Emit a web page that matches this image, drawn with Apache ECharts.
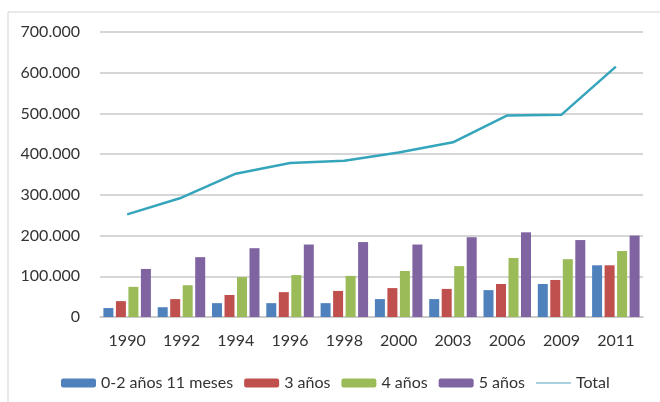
<!DOCTYPE html>
<html>
<head>
<meta charset="utf-8">
<script src="https://cdn.jsdelivr.net/npm/echarts@6/dist/echarts.min.js"></script>
<style>
  html, body { margin: 0; padding: 0; background: #fff; }
  #chart { width: 660px; height: 402px; }
</style>
</head>
<body>
<div id="chart"></div>
<script>
var years = ['1990', '1992', '1994', '1996', '1998', '2000', '2003', '2006', '2009', '2011'];
var age02 = [22000, 24000, 34000, 34000, 34000, 44000, 44000, 66000, 81000, 127000];
var age3 = [39000, 44000, 54000, 61000, 64000, 71000, 69000, 81000, 91000, 127000];
var age4 = [74000, 78000, 98000, 103000, 101000, 113000, 125000, 145000, 142000, 162000];
var age5 = [118000, 147000, 169000, 178000, 184000, 178000, 196000, 208000, 189000, 200000];
var total = [252000, 293000, 352000, 378000, 384000, 404000, 429000, 495000, 497000, 615000];

var chart = echarts.init(document.getElementById('chart'));
var font = 'Lato, "Open Sans", sans-serif';

function bar(name, data, color) {
    return {
        name: name,
        type: 'bar',
        data: data,
        barWidth: 10,
        barGap: '25%',
        itemStyle: { color: color },
        z: 2
    };
}

chart.setOption({
    backgroundColor: '#fff',
    animation: false,
    textStyle: { fontFamily: font },
    graphic: [{
        type: 'rect',
        shape: { x: 8, y: 12, width: 680, height: 420 },
        style: { fill: 'none', stroke: '#d4d4d4', lineWidth: 1 },
        silent: true
    }],
    grid: { left: 100, right: 17, top: 32, bottom: 85 },
    legend: {
        top: 370,
        left: 56,
        itemWidth: 35,
        itemHeight: 9,
        itemGap: 11,
        textStyle: { fontFamily: font, fontSize: 16, color: '#333' },
        data: [
            '0-2 años 11 meses', '3 años', '4 años', '5 años',
            { name: 'Total', icon: 'path://M0,0 L38,0 L38,2 L0,2 Z', itemStyle: { color: '#a9d3e2' } }
        ]
    },
    xAxis: {
        type: 'category',
        data: years,
        axisLine: { lineStyle: { color: '#c8c8c8', width: 1.5 } },
        axisTick: { show: false },
        axisLabel: { margin: 16, fontSize: 16, color: '#333', fontFamily: font }
    },
    yAxis: {
        type: 'value',
        min: 0,
        max: 700000,
        interval: 100000,
        axisLine: { show: false },
        axisTick: { show: false },
        splitLine: { lineStyle: { color: '#c8c8c8', width: 1.5 } },
        axisLabel: {
            margin: 20,
            fontSize: 16,
            color: '#333',
            fontFamily: font,
            formatter: function (v) {
                return String(v).replace(/\B(?=(\d{3})+(?!\d))/g, '.');
            }
        }
    },
    series: [
        bar('0-2 años 11 meses', age02, '#4f81bd'),
        bar('3 años', age3, '#c0504d'),
        bar('4 años', age4, '#9bbb59'),
        bar('5 años', age5, '#8064a2'),
        {
            name: 'Total',
            type: 'line',
            data: total,
            symbol: 'none',
            lineStyle: { color: '#35a5bc', width: 2.5 },
            itemStyle: { color: '#35a5bc' },
            z: 3
        }
    ]
});
</script>
</body>
</html>
